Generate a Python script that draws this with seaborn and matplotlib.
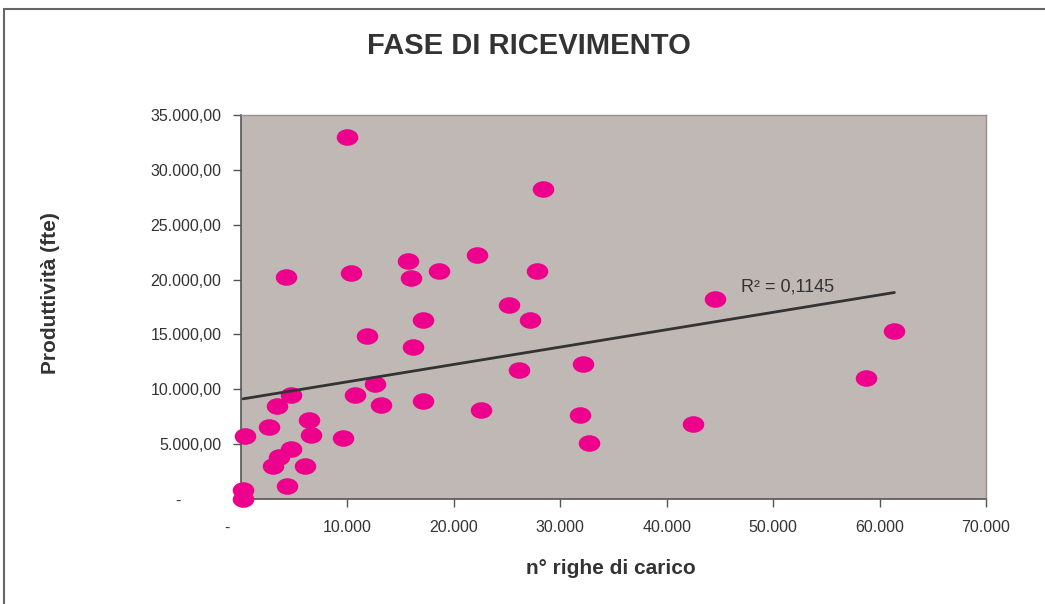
import matplotlib
matplotlib.use("Agg")
import pandas as pd
import seaborn as sns
import matplotlib.pyplot as plt
from matplotlib.path import Path
from matplotlib.transforms import Affine2D
from matplotlib.ticker import FuncFormatter, FixedLocator
from matplotlib.patches import Rectangle


# n° righe di carico (x) and productivity (y)
righe = [10000, 28400, 4200, 10300, 15700, 16000, 18600, 22200, 27800, 25200,
         27200, 17100, 11800, 16200, 26100, 32100, 44500, 61400, 58700, 42500,
         4700, 3400, 10700, 12600, 13200, 17100, 22600, 31900, 32700, 2600,
         6400, 6600, 400, 9600, 4700, 3600, 3000, 6000, 4300, 200, 200]
produttivita = [33000, 28300, 20200, 20600, 21700, 20100, 20800, 22200, 20800, 17700,
                16300, 16300, 14900, 13900, 11800, 12300, 18200, 15300, 11000, 6800,
                9500, 8500, 9500, 10500, 8600, 8900, 8100, 7700, 5100, 6600,
                7200, 5800, 5700, 5600, 4600, 3800, 3000, 3000, 1200, 800, 0]

x_ticks = [0, 10000, 20000, 30000, 40000, 50000, 60000, 70000]
y_ticks = [0, 5000, 10000, 15000, 20000, 25000, 30000, 35000]

title = "FASE DI RICEVIMENTO"
x_label = "n° righe di carico"
y_label = "Produttività (fte)"
r2_text = "R² = 0,1145"
r2_pos = (47000, 19300)

df = pd.DataFrame({"righe": righe, "produttivita": produttivita})


def it_number(v, decimals):
    s = f"{v:,.{decimals}f}"
    return s.replace(",", "X").replace(".", ",").replace("X", ".")


sns.set_style("white")
plt.rcParams["font.family"] = ["Liberation Sans", "DejaVu Sans"]

text_col = "#333333"
ellipse = Path.unit_circle().transformed(Affine2D().scale(1.3, 1.0))

fig = plt.figure(figsize=(10.45, 6.04), dpi=100)
ax = fig.add_axes([0.2306, 0.1738, 0.7129, 0.6358])
ax.set_facecolor("#C0B8B5")

sns.regplot(data=df, x="righe", y="produttivita", ax=ax, ci=None,
            marker=ellipse,
            scatter_kws=dict(s=240, color="#EC008C", alpha=1, linewidths=0,
                             clip_on=False, zorder=3),
            line_kws=dict(color="#333333", lw=2.0, zorder=4))

ax.set_xlim(0, 70000)
ax.set_ylim(0, 35000)
ax.xaxis.set_major_locator(FixedLocator(x_ticks))
ax.yaxis.set_major_locator(FixedLocator(y_ticks))
ax.xaxis.set_major_formatter(FuncFormatter(
    lambda v, p: "-      " if v == 0 else it_number(v, 0)))
ax.yaxis.set_major_formatter(FuncFormatter(
    lambda v, p: "-         " if v == 0 else it_number(v, 2)))

ax.tick_params(axis="both", direction="out", length=6, width=1,
               color="#555555", labelsize=11.5, labelcolor=text_col)
ax.tick_params(axis="x", pad=9)
ax.tick_params(axis="y", pad=8)
ax.tick_params(left=True, bottom=True)

for side in ["left", "bottom"]:
    ax.spines[side].set_color("#555555")
    ax.spines[side].set_linewidth(1.2)
for side in ["top", "right"]:
    ax.spines[side].set_color("#9A8F8C")
    ax.spines[side].set_linewidth(1.0)

ax.set_xlabel(x_label, fontsize=15, fontweight="bold", color=text_col)
ax.set_ylabel(y_label, fontsize=15, fontweight="bold", color=text_col)
ax.xaxis.set_label_coords(0.497, -0.155)
ax.yaxis.set_label_coords(-0.243, 0.537)

ax.text(r2_pos[0], r2_pos[1], r2_text, fontsize=13, color=text_col,
        ha="left", va="center", zorder=5)

fig.text(529 / 1045, 1 - 46 / 604, title, fontsize=21, fontweight="bold",
         color=text_col, ha="center", va="center")

# outer chart border (only top and left edges visible in the crop)
fig.add_artist(Rectangle((4 / 1045, -0.2), 1.5, 1.2 - 9 / 604 + 0.0,
                         transform=fig.transFigure, fill=False,
                         edgecolor="#666666", lw=1.5))

fig.savefig("out.png", dpi=100)
